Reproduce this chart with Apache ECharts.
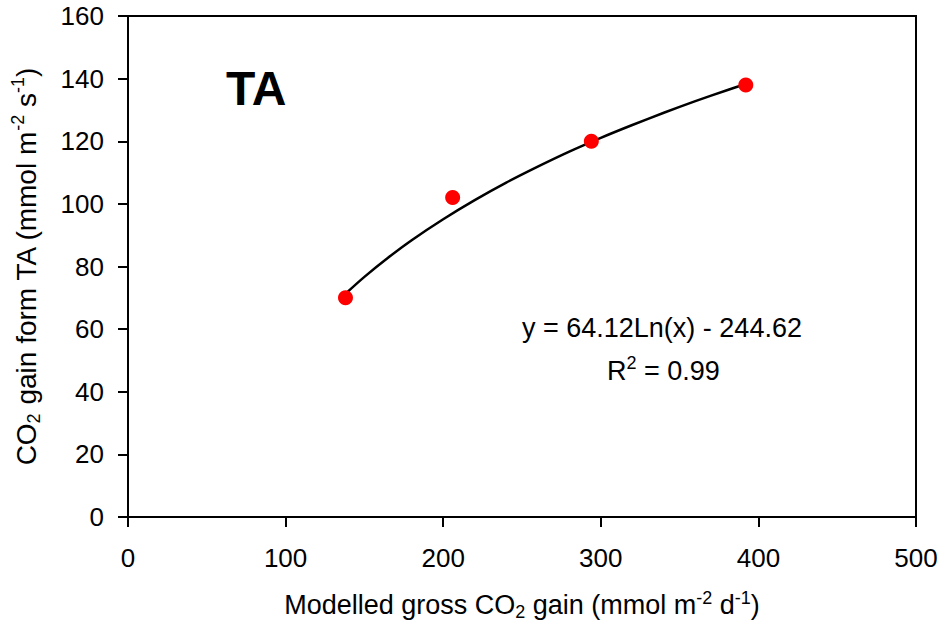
<!DOCTYPE html>
<html>
<head>
<meta charset="utf-8">
<script src="https://cdn.jsdelivr.net/npm/echarts@6/dist/echarts.min.js"></script>
<style>html,body{margin:0;padding:0;background:#fff}#c{width:941px;height:628px}</style>
</head>
<body>
<div id="c"></div>
<script>
// Measured points
const pointX = [138, 206, 294, 392];
const pointY = [70, 102, 120, 138];
// Trend line
const trendX = [138, 150, 165, 180, 200, 220, 240, 260, 280, 300, 320, 340, 360, 380, 392];
const trendY = [71.3, 76.7, 82.8, 88.4, 95.1, 101.2, 106.8, 111.9, 116.7, 121.1, 125.2, 129.1, 132.8, 136.3, 138.3];
const xTicks = [0, 100, 200, 300, 400, 500];
const yTicks = [0, 20, 40, 60, 80, 100, 120, 140, 160];
const panelLabel = 'TA';
const eqText = 'y = 64.12Ln(x) - 244.62';
const r2Value = '0.99';

const FONT = '"Liberation Sans", Arial, sans-serif';
const chart = echarts.init(document.getElementById('c'), null, {renderer: 'svg'});
function richSet(size, subSize, lh) {
  return {
    a: {fontSize: size, fontFamily: FONT, color: '#000', lineHeight: lh},
    sub: {fontSize: subSize, fontFamily: FONT, color: '#000', verticalAlign: 'bottom'},
    sup: {fontSize: subSize, fontFamily: FONT, color: '#000', verticalAlign: 'top'}
  };
}
const axisCommon = {
  axisLine: {show: true, lineStyle: {color: '#000', width: 2}},
  axisTick: {show: true, inside: false, length: 10, lineStyle: {color: '#000', width: 2}},
  splitLine: {show: false},
  axisLabel: {color: '#000', fontSize: 26, fontFamily: FONT}
};
chart.setOption({
  animation: false,
  backgroundColor: '#fff',
  grid: {left: 128, top: 16, right: 25, bottom: 111, containLabel: false, outerBoundsMode: 'none',
         show: true, borderColor: '#000', borderWidth: 2, backgroundColor: 'transparent'},
  xAxis: Object.assign({}, axisCommon, {
    type: 'value', min: xTicks[0], max: xTicks[xTicks.length - 1], interval: xTicks[1] - xTicks[0],
    axisLabel: Object.assign({}, axisCommon.axisLabel, {margin: 28}),
    name: '{a|Modelled gross CO}{sub|2}{a| gain (mmol m}{sup|-2}{a| d}{sup|-1}{a|)}',
    nameLocation: 'middle', nameGap: 72,
    nameTextStyle: {rich: richSet(27, 18, 32)}
  }),
  yAxis: Object.assign({}, axisCommon, {
    type: 'value', min: yTicks[0], max: yTicks[yTicks.length - 1], interval: yTicks[1] - yTicks[0],
    axisLabel: Object.assign({}, axisCommon.axisLabel, {margin: 24}),
    name: '{a|CO}{sub|2}{a| gain form TA (mmol m}{sup|-2}{a| s}{sup|-1}{a|)}',
    nameLocation: 'middle', nameGap: 85, nameRotate: 90,
    nameTextStyle: {rich: richSet(28, 18, 34)}
  }),
  graphic: [
    {type: 'text', left: 226, top: 64, style: {text: panelLabel, fontSize: 48, fontWeight: 'bold', fontFamily: FONT, fill: '#000'}},
    {type: 'text', left: 522, top: 314, style: {text: eqText, fontSize: 27, fontFamily: FONT, fill: '#000'}},
    {type: 'text', left: 607, top: 354, style: {
      text: '{a|R}{s|2}{a| = ' + r2Value + '}',
      rich: {
        a: {fontSize: 27, fontFamily: FONT, fill: '#000', lineHeight: 34},
        s: {fontSize: 18, fontFamily: FONT, fill: '#000', verticalAlign: 'top'}
      }
    }}
  ],
  series: [
    {
      type: 'line', data: trendX.map((x, i) => [x, trendY[i]]), smooth: 0.3, showSymbol: false, symbol: 'none',
      lineStyle: {color: '#000', width: 2.5}, z: 2
    },
    {
      type: 'scatter', data: pointX.map((x, i) => [x, pointY[i]]), symbol: 'circle', symbolSize: 15,
      itemStyle: {color: '#ff0000', opacity: 1}, z: 3
    }
  ]
});
</script>
</body>
</html>
